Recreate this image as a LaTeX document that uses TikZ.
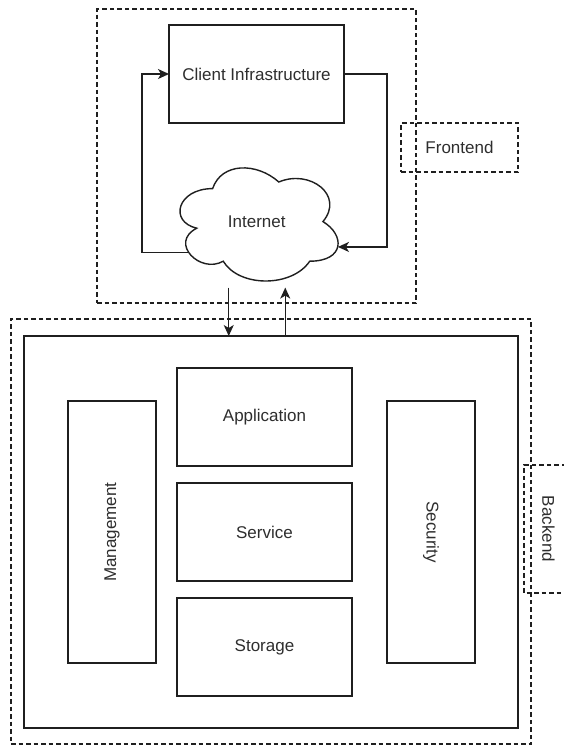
\documentclass[tikz,border=0pt]{standalone}
\usepackage{fontspec}
\setmainfont{Liberation Sans}
\usetikzlibrary{arrows.meta}
\begin{document}
\begin{tikzpicture}[x=1pt,y=-1pt,
  every node/.style={font=\fontsize{17}{20}\selectfont, text=black!82, inner sep=0pt, outer sep=0pt},
  solidbox/.style={draw=black!88, line width=1.4pt, rectangle},
  dashbox/.style={draw=black!88, line width=1.2pt, rectangle, dash pattern=on 4.5pt off 3pt},
  arr/.style={draw=black!88, line width=1.4pt, -{Stealth[length=11pt,width=10pt,inset=3pt]}},
  conn/.style={draw=black!88, line width=1.4pt}]
\useasboundingbox (0,0) rectangle (564,745);

% Frontend
\node[dashbox, minimum width=319, minimum height=294] (frontbox) at (256.5,156) {};
\node[dashbox, minimum width=117, minimum height=49] (frontlbl) at (459.5,147.5) {Frontend};
\node[solidbox, fill=white, minimum width=175, minimum height=98] (client) at (256.5,74) {Client Infrastructure};

% Cloud (draw.io cloud shape in its bounding box)
\node[minimum width=176.5, minimum height=132] (internet) at (256.75,221.6) {};
\begin{scope}[shift={(168.5,155.6)}, x=176.5pt, y=-132pt]
  \draw[conn, fill=white] (0.25,0.25)
    .. controls (0.05,0.25) and (0,0.5) .. (0.16,0.55)
    .. controls (0,0.66) and (0.18,0.9) .. (0.31,0.8)
    .. controls (0.4,1) and (0.7,1) .. (0.8,0.8)
    .. controls (1,0.8) and (1,0.6) .. (0.875,0.5)
    .. controls (1,0.3) and (0.8,0.1) .. (0.625,0.2)
    .. controls (0.5,0.05) and (0.3,0.05) .. (0.25,0.25) -- cycle;
  \coordinate (cl-l) at (0.115,0.734);
  \coordinate (cl-r) at (0.96,0.692);
\end{scope}
\node at (internet.center) {Internet};

% Frontend connectors
\draw[arr] (cl-l) -- ++(-46.8,0) |- (client.west);
\draw[arr] (client.east) -- ++(43,0) |- (cl-r);

% Backend
\node[dashbox, minimum width=520, minimum height=425] (backbox) at (271,531.5) {};
\node[dashbox, minimum width=128, minimum height=49, rotate=-90] (backlbl) at (548.5,529) {Backend};
\node[solidbox, fill=white, minimum width=494, minimum height=392] (core) at (271,532) {};
\node[solidbox, minimum width=175, minimum height=98] (app) at (264.5,417) {Application};
\node[solidbox, minimum width=175, minimum height=98] (service) at (264.5,532) {Service};
\node[solidbox, minimum width=175, minimum height=98] (storage) at (264.5,647) {Storage};
\node[solidbox, minimum width=262, minimum height=88, rotate=90] (mgmt) at (112,532) {Management};
\node[solidbox, minimum width=262, minimum height=88, rotate=-90] (security) at (431,532) {Security};

% Frontend <-> Backend connectors
\draw[arr] ([xshift=-28pt]internet.south) -- ([xshift=-28pt]internet.south |- core.north);
\draw[arr] ([xshift=28.5pt]internet.south |- core.north) -- ([xshift=28.5pt]internet.south);
\end{tikzpicture}
\end{document}
